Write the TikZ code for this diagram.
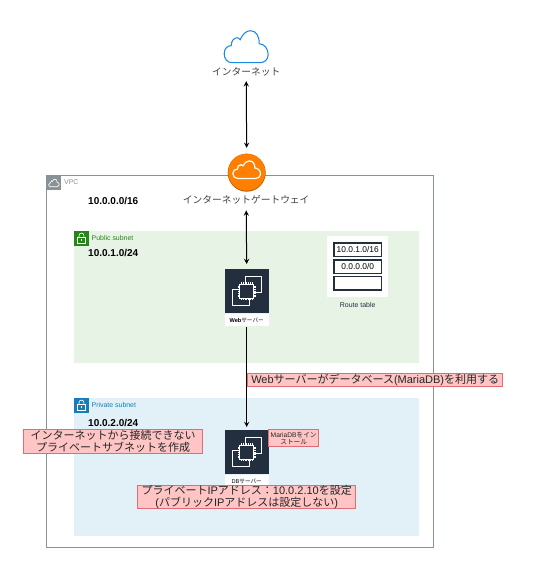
\documentclass[tikz,border=0pt]{standalone}
\usepackage{fontspec}
\setmainfont{Liberation Sans}
\newfontfamily\jp{Noto Sans CJK JP}
\definecolor{vpcgray}{HTML}{879196}
\definecolor{pubgreen}{HTML}{248814}
\definecolor{pubfill}{HTML}{E6F3E5}
\definecolor{privblue}{HTML}{147EBA}
\definecolor{privfill}{HTML}{E2F0F8}
\definecolor{chipdark}{HTML}{232F3E}
\definecolor{gworange}{HTML}{FF7F00}
\definecolor{gwshade}{HTML}{B35A00}
\definecolor{cloudblue}{HTML}{1E88E5}
\definecolor{notefill}{HTML}{FFC4C4}
\definecolor{noteline}{HTML}{E06C75}
\newcommand{\fsz}[1]{\fontsize{#1}{#1}\selectfont}

\begin{document}
\begin{tikzpicture}[x=0.75pt,y=-0.75pt,line width=0.75pt,>=stealth,
  cloudicon/.pic={
    \draw[pic actions] (-14,16) .. controls (-19,16) and (-22,12) .. (-22,7)
      .. controls (-22,2) and (-19,-1) .. (-15,-1)
      .. controls (-15,-6) and (-12,-9) .. (-9,-9)
      .. controls (-8,-9) and (-7,-8) .. (-6,-7)
      .. controls (-4,-12) and (0,-16) .. (4,-16)
      .. controls (10,-16) and (13,-11) .. (13,-3)
      .. controls (18,-3) and (22,2) .. (22,8)
      .. controls (22,13) and (18,16) .. (14,16) -- cycle;
  },
  lockicon/.pic={
    \draw[pic actions] (-4,-1) rectangle (4,5);
    \draw[pic actions] (-2.4,-1) -- (-2.4,-3) arc[start angle=180,end angle=360,x radius=2.4,y radius=2.4] -- (2.4,-1);
    \draw[pic actions] (0,1) -- (0,3);
  },
  chipicon/.pic={
    \draw[white,line width=0.6pt,line join=round] (-1.5,-7.5) -- (-1.5,-15) -- (15,-15) -- (15,1.5) -- (7.5,1.5);
    \draw[white,line width=0.6pt,line join=round] (-7.5,-1.5) -- (-14.5,-1.5) -- (-14.5,14.5) -- (2.5,14.5) -- (2.5,7.5);
    \draw[white,line width=0.7pt,fill=chipdark] (-7,-7) rectangle (7,7);
    \foreach \t in {-5.4,-3.6,-1.8,0,1.8,3.6,5.4} {
      \draw[white,line width=0.4pt] (\t,-7) -- (\t,-9);
      \draw[white,line width=0.4pt] (\t,7) -- (\t,9);
      \draw[white,line width=0.4pt] (-7,\t) -- (-9,\t);
      \draw[white,line width=0.4pt] (7,\t) -- (9,\t);
    }
  },
  subnet/.style={minimum width=258.75pt,minimum height=#1,anchor=north west,inner sep=0pt},
  tagbox/.style={minimum size=10.9pt,inner sep=0pt,anchor=north west},
  taglabel/.style={font=\fsz{5.2},anchor=west,inner sep=0pt},
  cidr/.style={font=\bfseries\fsz{7.5},anchor=west,inner sep=0pt},
  iconlabel/.style={font=\fsz{7.3},inner sep=0pt,text=black!75},
  server/.style={fill=chipdark,minimum size=33pt,inner sep=0pt},
  serverlabel/.style={fill=white,font=\fsz{4.2},minimum width=33pt,minimum height=8.5pt,inner sep=0pt,anchor=north},
  routerow/.style={draw=chipdark,line width=1.1pt,fill=white,minimum width=35.5pt,minimum height=10pt,inner sep=0pt,font=\fsz{6.3}},
  note/.style={draw=noteline,fill=notefill,inner sep=0pt,align=center,font=\fontsize{8.25}{9}\selectfont,text=black!85}]
  \useasboundingbox (0.3,0.3) rectangle (535.3,572.3);

  \node[draw=vpcgray,minimum width=289.9pt,minimum height=278.6pt,anchor=north west,inner sep=0pt,line width=0.9pt] (vpc) at (46.5,175.5) {};
  \node[fill=pubfill,subnet=99pt] (pub) at (74,231) {};
  \node[fill=privfill,subnet=103.5pt] (priv) at (74,398) {};

  % group tags
  \node[fill=vpcgray,tagbox] (vpctag) at (46.5,175.5) {};
  \node[fill=pubgreen,tagbox] (pubtag) at (74,231) {};
  \node[fill=privblue,tagbox] (privtag) at (74,398) {};
  \pic[draw=white,scale=0.24,line width=0.5pt] at (vpctag.center) {cloudicon};
  \pic[draw=white,line width=0.5pt] at (pubtag.center) {lockicon};
  \pic[draw=white,line width=0.5pt] at (privtag.center) {lockicon};
  \node[taglabel,text=vpcgray] (vpclabel) at (64,182.5) {VPC};
  \node[taglabel,text=pubgreen] (publabel) at (91.5,238) {Public subnet};
  \node[taglabel,text=privblue] (privlabel) at (91.5,405) {Private subnet};

  \node[cidr] (vpccidr) at (88,201.5) {10.0.0.0/16};
  \node[cidr] (pubcidr) at (88,253.5) {10.0.1.0/24};
  \node[cidr] (privcidr) at (88,423.5) {10.0.2.0/24};

  % internet and gateway
  \coordinate (inet) at (246.5,47);
  \pic[draw=cloudblue,line width=0.8pt] at (inet) {cloudicon};
  \node[iconlabel] (inetlabel) at (246.5,72) {\jp インターネット};
  \node[circle,fill=gwshade,minimum size=28.5pt,inner sep=0pt] (igw) at (247,173) {};
  \node[circle,fill=gworange,minimum size=27.8pt,inner sep=0pt] (igwtop) at (247,172.5) {};
  \pic[draw=white,fill=none,line width=0.9pt,xscale=0.63,yscale=0.55] at (247,170) {cloudicon};
  \node[iconlabel] (igwlabel) at (246.5,200.5) {\jp インターネットゲートウェイ};

  % servers
  \node[server] (web) at (247,291.5) {};
  \pic at (web.center) {chipicon};
  \node[serverlabel] (weblabel) at (web.south) {\textbf{Web}{\jp サーバー}};
  \node[server] (db) at (247,452.5) {};
  \pic at (db.center) {chipicon};
  \node[serverlabel] (dblabel) at (db.south) {DB{\jp サーバー}};

  % route table
  \node[fill=white,minimum width=46pt,minimum height=46pt,inner sep=0pt] (rtback) at (357.5,266.5) {};
  \node[routerow] (rtone) at (358,250) {10.0.1.0/16};
  \node[routerow] (rttwo) at (358,267) {0.0.0.0/0};
  \node[routerow] (rtthree) at (358,283.5) {};
  \node[font=\fsz{5.2},inner sep=0pt,text=chipdark] (rtlabel) at (358,305) {Route table};

  % connectors
  \draw[<->,shorten <=3.5pt,shorten >=4pt] (inetlabel.south) -- (igw.north);
  \draw[<->,shorten <=4pt,shorten >=3.5pt] (igwlabel.south) -- (web.north);
  \draw[->,shorten <=1pt,shorten >=2pt] (weblabel.south) -- (db.north);

  % notes
  \node[note,minimum width=191.5pt,minimum height=9.7pt] (noteuse) at (375.5,380.5)
    {Web{\jp サーバーがデータベース}(MariaDB){\jp を利用する}};
  \node[note,minimum width=134pt,minimum height=18pt] (noteprivate) at (113.5,442)
    {\jp インターネットから接続できない\\\jp プライベートサブネットを作成};
  \node[note,font=\fsz{5},minimum width=37.5pt,minimum height=12.8pt] (notemaria) at (294,438.5)
    {MariaDB{\jp をイン}\\\jp ストール};
  \node[note,minimum width=163.5pt,minimum height=17pt] (noteaddr) at (247,497.5)
    {{\jp プライベート}IP{\jp アドレス：}10.0.2.10{\jp を設定}\\({\jp パブリック}IP{\jp アドレスは設定しない})};
\end{tikzpicture}
\end{document}
